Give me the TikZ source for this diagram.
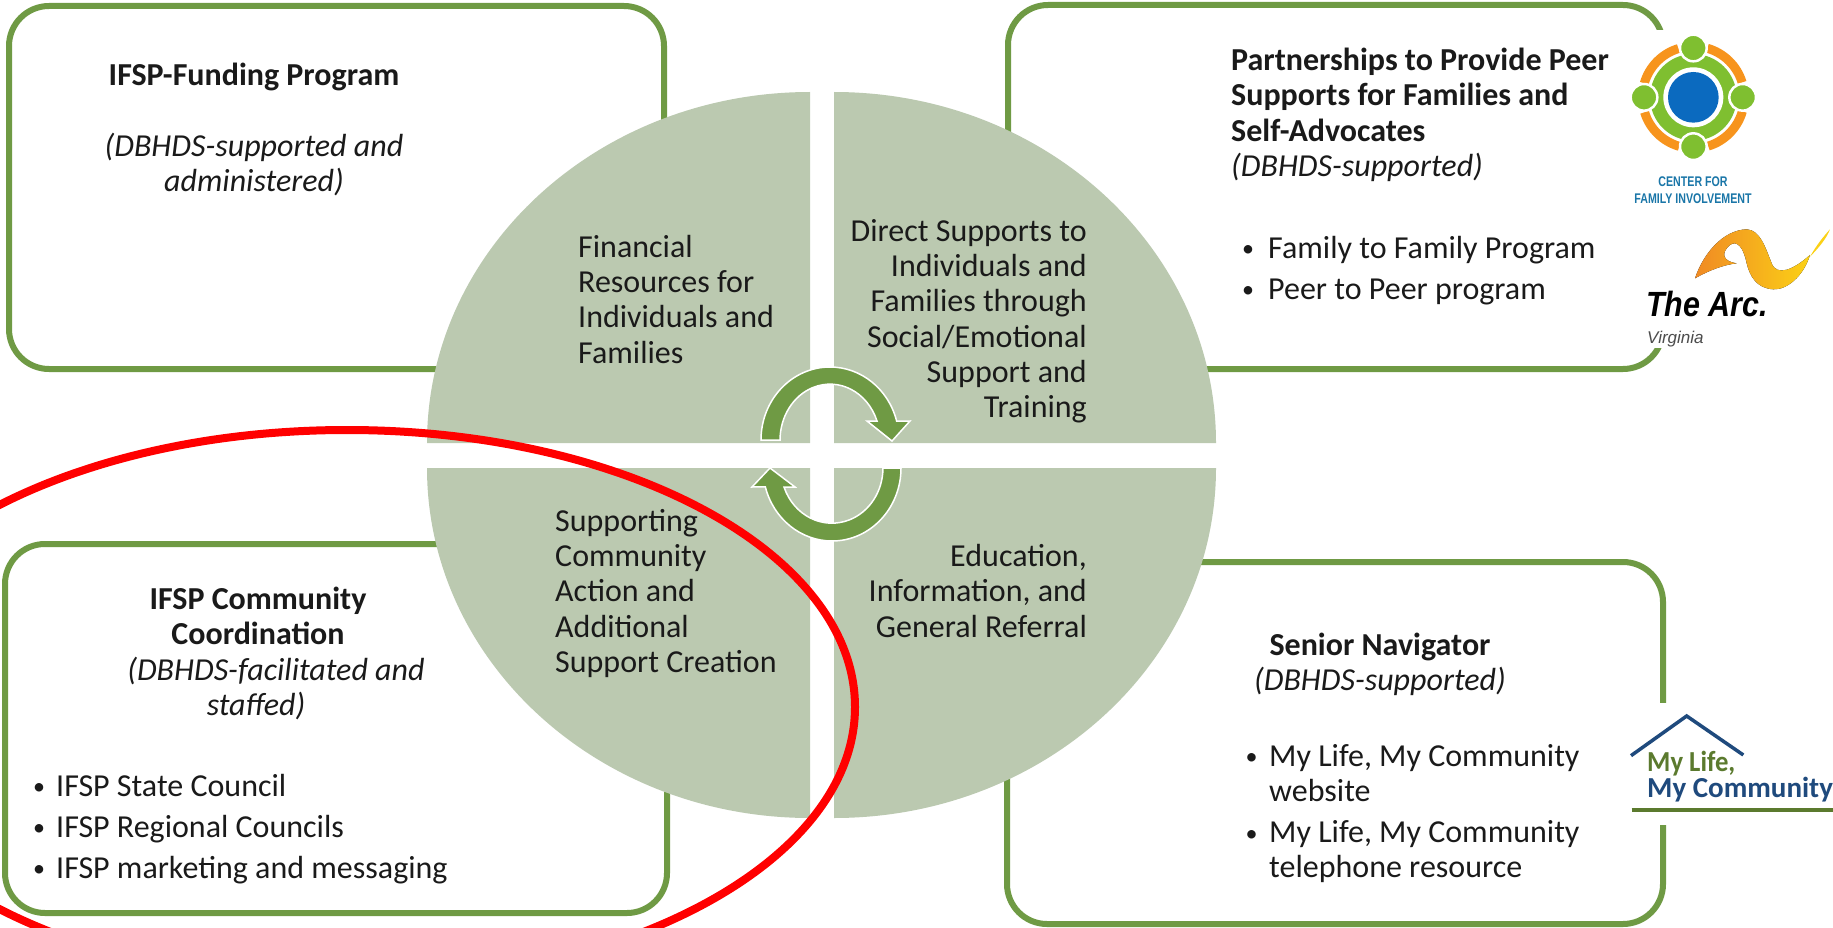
\documentclass[tikz,border=0pt]{standalone}
\usepackage{fontspec}
\setmainfont{Carlito}
\newfontfamily\logofont{Liberation Sans}
\usetikzlibrary{positioning}

\newcommand{\bul}[1]{\makebox[#1][l]{\raisebox{1.5pt}{\fontsize{24}{24}\selectfont\textbullet}}}

\begin{document}
\begin{tikzpicture}[x=1pt, y=-1pt, font=\fontsize{32}{35.3}\selectfont, text=textblack,
    infobox/.style={draw=boxgreen, line width=6pt, rounded corners=40pt, inner sep=0pt, fill=white},
    textblock/.style={inner sep=0pt, anchor=north, execute at begin node=\strut},
    pieslice/.style={fill=piegreen},
    cyclearrow/.style={fill=boxgreen, draw=white, line width=1.5pt, line join=miter},
    logopatch/.style={fill=white, draw=none}]
        % Define colors
        \definecolor{textblack}{HTML}{1A1A1A}
        \definecolor{boxgreen}{HTML}{6F9A44}
        \definecolor{piegreen}{HTML}{BBC9B0}
        \definecolor{cfigreen}{HTML}{7FBF30}
        \definecolor{cfiorange}{HTML}{F7941D}
        \definecolor{cfiblue}{HTML}{0B6ABF}
        \definecolor{cfitext}{HTML}{1A76A8}
        \definecolor{arcorange}{HTML}{F08A24}
        \definecolor{arcyellow}{HTML}{FBD116}
        \definecolor{lifenavy}{HTML}{1F4A7D}
        \definecolor{lifegreen}{HTML}{5B7A2E}

        \useasboundingbox (0,0) rectangle (1833,928);
        \clip (0,0) rectangle (1833,928);

        % Boxes
        \node[infobox, minimum width=655pt, minimum height=363pt] (fundbox) at (336.5,187.5) {};
        \node[infobox, minimum width=662pt, minimum height=369pt] (coordbox) at (336,728.5) {};
        \node[infobox, minimum width=655pt, minimum height=364pt] (peerbox) at (1335.5,187) {};
        \node[infobox, minimum width=656pt, minimum height=362pt] (seniorbox) at (1335,743) {};

        % Patches behind the logos
        \fill[logopatch] (1630,30) rectangle (1833,348);
        \fill[logopatch] (1592,703) rectangle (1833,825);

        % Circle quarters
        \fill[pieslice] (810,443) -- (427,443) arc[start angle=180, end angle=270, x radius=383, y radius=351] -- cycle;
        \fill[pieslice] (834,443) -- (834,92) arc[start angle=270, end angle=360, x radius=382, y radius=351] -- cycle;
        \fill[pieslice] (834,468) -- (1216,468) arc[start angle=0, end angle=90, x radius=382, y radius=350] -- cycle;
        \fill[pieslice] (810,468) -- (810,818) arc[start angle=90, end angle=180, x radius=383, y radius=350] -- cycle;

        % Arrows in the middle
        \draw[cyclearrow] (761,440) arc[start angle=180, end angle=345, x radius=69, y radius=73]
            -- (910,421) -- (892,441) -- (867,421) -- (877,421)
            arc[start angle=340, end angle=180, x radius=50, y radius=56] -- cycle;
        \draw[cyclearrow] (901,468) arc[start angle=0, end angle=165, x radius=69, y radius=73]
            -- (752,487) -- (770,468) -- (795,487) -- (784,487)
            arc[start angle=160, end angle=0, x radius=51, y radius=55] -- cycle;

        % Text in the boxes
        \node[textblock, align=center] (fundtext) at (254,62.8) {\bfseries IFSP-Funding Program\\[35.3pt]
            \itshape (DBHDS-supported and\\ \itshape administered)};
        \node[textblock, align=center] (coordtext) at (258,586.8) {\bfseries IFSP Community\\ \bfseries Coordination\\
            \hspace*{36pt}\itshape (DBHDS-facilitated and\\ \itshape staffed)\hspace*{4pt}};
        \node[textblock, anchor=north west, align=left] (coordlist) at (33,774) {\bul{23pt}IFSP State Council\\[5.7pt]
            \bul{23pt}IFSP Regional Councils\\[5.7pt] \bul{23pt}IFSP marketing and messaging};
        \node[textblock, anchor=north west, align=left] (peertext) at (1231,47.8) {\bfseries Partnerships to Provide Peer\\
            \bfseries Supports for Families and\\ \bfseries Self-Advocates\\ \itshape (DBHDS-supported)};
        \node[textblock, anchor=north west, align=left] (peerlist) at (1242,235.8) {\bul{26pt}Family to Family Program\\[5.7pt]
            \bul{26pt}Peer to Peer program};
        \node[textblock, align=center] (seniortext) at (1380,633) {\bfseries Senior Navigator\\ \itshape (DBHDS-supported)};
        \node[textblock, anchor=north west, align=left] (seniorlist) at (1245.5,744) {\bul{23.5pt}My Life, My Community\\
            \hspace*{23.5pt}website\\[5.7pt] \bul{23.5pt}My Life, My Community\\ \hspace*{23.5pt}telephone resource};

        % Text in the circle
        \node[textblock, anchor=north west, align=left] (financial) at (578,234.8) {Financial\\ Resources for\\ Individuals and\\ Families};
        \node[textblock, anchor=north east, align=right] (direct) at (1087,219) {Direct Supports to\\ Individuals and\\ Families through\\ Social/Emotional\\ Support and\\ Training};
        \node[textblock, anchor=north west, align=left] (action) at (555,509) {Supporting\\ Community\\ Action and\\ Additional\\ Support Creation};
        \node[textblock, anchor=north east, align=right] (education) at (1087,544) {Education,\\ Information, and\\ General Referral};

        % Center for Family Involvement logo
        \begin{scope}[shift={(1580,0)}, x=0.3333pt, y=-0.3333pt]
            \foreach \a in {16,106,196,286} {
                \draw[cfiorange, line width=9pt] (340,292) ++(\a:153) arc[start angle=\a, delta angle=57, radius=153];
            }
            \fill[cfigreen] (340,292) circle[radius=130];
            \fill[white] (340,292) circle[radius=90];
            \fill[cfiblue] (340,292) circle[radius=76];
            \foreach \a in {0,90,180,270} {
                \fill[cfigreen, draw=white, line width=2.5pt] (340,292) ++(\a:148) circle[radius=40];
            }
        \end{scope}
        \node[inner sep=0pt, text=cfitext, font=\logofont\bfseries\fontsize{14}{16.5}\selectfont, align=center] (cfilabel) at (1693,190) {\scalebox{0.76}[1]{CENTER FOR}\\ \scalebox{0.76}[1]{FAMILY INVOLVEMENT}};

        % The Arc logo
        \begin{scope}[shift={(1580,0)}, x=0.3333pt, y=-0.3333pt]
            \fill[left color=arcorange, right color=arcyellow] (345,835) .. controls (370,760) and (430,690) .. (500,688)
                .. controls (540,690) and (555,740) .. (575,790)
                .. controls (590,830) and (640,810) .. (690,765)
                .. controls (670,830) and (620,870) .. (580,868)
                .. controls (530,865) and (510,830) .. (500,790)
                .. controls (490,740) and (470,720) .. (450,735)
                .. controls (420,760) and (430,785) .. (470,790)
                .. controls (430,795) and (390,810) .. (345,835) -- cycle;
            \fill[arcyellow] (690,770) .. controls (710,735) and (730,710) .. (750,688)
                .. controls (740,715) and (715,745) .. (690,770) -- cycle;
        \end{scope}
        \node[inner sep=0pt, anchor=base west, text=black, font=\logofont\bfseries\itshape\fontsize{35}{40}\selectfont] (arcname) at (1646,316) {\scalebox{0.87}[1]{The Arc.}};
        \node[inner sep=0pt, anchor=base west, text=black!70, font=\logofont\itshape\fontsize{17}{20}\selectfont] (arcstate) at (1647,343) {Virginia};

        % My Life, My Community logo
        \begin{scope}[shift={(1560,690)}, x=0.3333pt, y=-0.3333pt]
            \draw[lifenavy, line width=3.5pt] (213,197) -- (380,78) -- (550,195);
            \draw[lifegreen, line width=4.5pt] (215,360) -- (819,360);
        \end{scope}
        \node[textblock, anchor=north west, align=left, font=\bfseries\fontsize{29}{24}\selectfont] (lifename) at (1647,750.7) {\textcolor{lifegreen}{\scalebox{0.92}[1]{My Life,}}\\ \textcolor{lifenavy}{My Community}};

        % Red ring
        \draw[red, line width=8pt] (347,707) ellipse[x radius=508, y radius=277];
\end{tikzpicture}
\end{document}
